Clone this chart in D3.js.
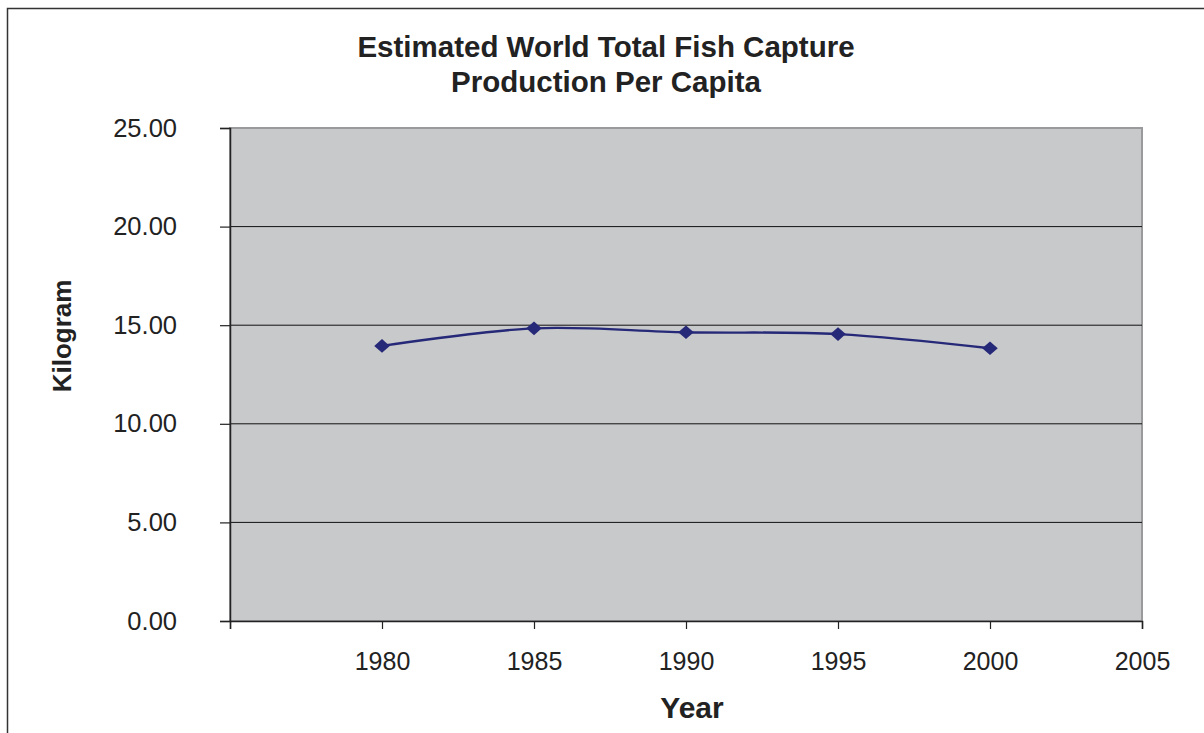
<!DOCTYPE html>
<html><head><meta charset="utf-8">
<script src="https://cdn.jsdelivr.net/npm/d3@7"></script>
<style>body{margin:0;background:#fff}svg{display:block}text{font-family:"Liberation Sans",Arial,sans-serif;fill:#222}</style>
</head><body>
<svg id="c" width="1204" height="733"></svg>
<script>
const years = [1980, 1985, 1990, 1995, 2000];
const kilograms = [13.95, 14.84, 14.64, 14.55, 13.83];
const xTicks = [1975, 1980, 1985, 1990, 1995, 2000, 2005];
const yTicks = [0, 5, 10, 15, 20, 25];
const titleLines = ["Estimated World Total Fish Capture", "Production Per Capita"];

const svg = d3.select("#c");
const L = 230, R = 1142, T = 128, B = 621;
const x = d3.scaleLinear().domain([1975, 2005]).range([L, R]);
const y = d3.scaleLinear().domain([0, 25]).range([B, T]);

// outer frame
svg.append("rect").attr("x", 7.5).attr("y", 8.5).attr("width", 1220).attr("height", 760)
  .attr("fill", "none").attr("stroke", "#333").attr("stroke-width", 1.5);

// plot area
svg.append("rect").attr("x", L).attr("y", T).attr("width", R - L).attr("height", B - T)
  .attr("fill", "#c8c9cb").attr("stroke", "#9a9a9c").attr("stroke-width", 2);

// gridlines
svg.append("g").selectAll("line").data(yTicks.filter(d => d > 0 && d < 25)).join("line")
  .attr("x1", L).attr("x2", R).attr("y1", d => y(d)).attr("y2", d => y(d))
  .attr("stroke", "#111").attr("stroke-width", 1);

// y axis
const ya = svg.append("g").attr("transform", `translate(${L},0)`)
  .call(d3.axisLeft(y).tickValues(yTicks).tickFormat(d3.format(".2f")).tickSize(10).tickPadding(43));
ya.select(".domain").attr("stroke", "#222").attr("stroke-width", 1.5);
ya.selectAll(".tick line").attr("stroke", "#222").attr("stroke-width", 1.2);
ya.selectAll("text").style("font-size", "25.5px").attr("fill", "#222");

// x axis
const xa = svg.append("g").attr("transform", `translate(0,${B})`)
  .call(d3.axisBottom(x).tickValues(xTicks).tickFormat(d => d === 1975 ? "" : d).tickSize(8).tickPadding(23));
xa.select(".domain").attr("stroke", "#222").attr("stroke-width", 1.5);
xa.selectAll(".tick line").attr("stroke", "#222").attr("stroke-width", 1.2);
xa.selectAll("text").style("font-size", "25px").attr("fill", "#222");

// line
const pts = years.map((yr, i) => [yr, kilograms[i]]);
svg.append("path").datum(pts)
  .attr("d", d3.line().x(d => x(d[0])).y(d => y(d[1])).curve(d3.curveCatmullRom.alpha(0.5)))
  .attr("fill", "none").attr("stroke", "#262878").attr("stroke-width", 2.4);

// markers (slightly wider than tall)
svg.append("g").selectAll("path").data(pts).join("path")
  .attr("d", d3.symbol().type(d3.symbolDiamond2).size(140))
  .attr("transform", d => `translate(${x(d[0])},${y(d[1])}) scale(1.05,0.92)`)
  .attr("fill", "#262878");

// title
svg.append("text").attr("x", 606).attr("text-anchor", "middle")
  .style("font-size", "29.5px").style("font-weight", "bold")
  .selectAll("tspan").data(titleLines).join("tspan")
  .attr("x", 606).attr("y", (d, i) => 57 + i * 35).text(d => d);

// axis titles
svg.append("text").attr("x", 692).attr("y", 718).attr("text-anchor", "middle")
  .style("font-size", "30px").style("font-weight", "bold").text("Year");
svg.append("text").attr("transform", "translate(71,336) rotate(-90)").attr("text-anchor", "middle")
  .style("font-size", "26px").style("font-weight", "bold").text("Kilogram");
</script>
</body></html>
